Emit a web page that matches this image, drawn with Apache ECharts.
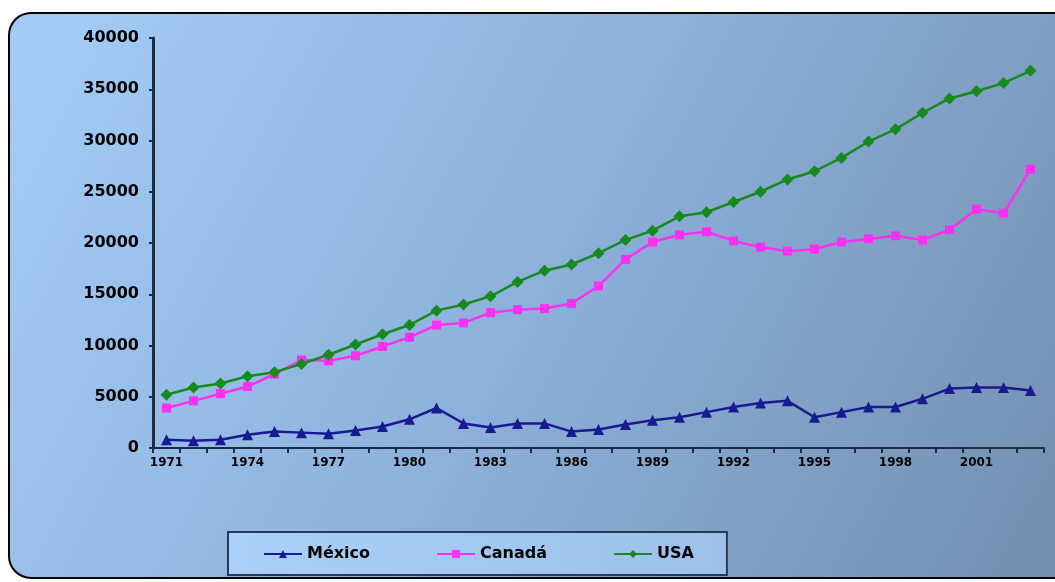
<!DOCTYPE html>
<html>
<head>
<meta charset="utf-8">
<script src="https://cdn.jsdelivr.net/npm/echarts@6/dist/echarts.min.js"></script>
<style>
html,body{margin:0;padding:0;background:#ffffff;}
#chart{width:1055px;height:582px;}
</style>
</head>
<body>
<div id="chart"></div>
<script>
const years = [];
for (let y = 1971; y <= 2003; y++) years.push(String(y));
const mexico = [800, 700, 800, 1300, 1600, 1500, 1400, 1700, 2100, 2800, 3900, 2400, 2000, 2400, 2400, 1600, 1800, 2300, 2700, 3000, 3500, 4000, 4400, 4600, 3000, 3500, 4000, 4000, 4800, 5800, 5900, 5900, 5600];
const canada = [3900, 4600, 5300, 6000, 7200, 8600, 8500, 9000, 9900, 10800, 12000, 12200, 13200, 13500, 13600, 14100, 15800, 18400, 20100, 20800, 21100, 20200, 19600, 19200, 19400, 20100, 20400, 20700, 20300, 21300, 23300, 22900, 27200];
const usa = [5200, 5900, 6300, 7000, 7400, 8200, 9100, 10100, 11100, 12000, 13400, 14000, 14800, 16200, 17300, 17900, 19000, 20300, 21200, 22600, 23000, 24000, 25000, 26200, 27000, 28300, 29900, 31100, 32700, 34100, 34800, 35600, 36800];
const seriesNames = ['México', 'Canadá', 'USA'];

const chart = echarts.init(document.getElementById('chart'));
const font = '"DejaVu Sans", "Liberation Sans", Arial, sans-serif';
chart.setOption({
  animation: false,
  textStyle: { fontFamily: font },
  graphic: [{
    type: 'rect', z: -10, silent: true,
    shape: { x: 9, y: 13, width: 1070, height: 565, r: [22, 0, 0, 22] },
    style: {
      fill: new echarts.graphic.LinearGradient(0, 0, 1, 1, [
        { offset: 0, color: '#a3cdf8' },
        { offset: 0.5, color: '#8cb0da' },
        { offset: 1, color: '#728eae' }
      ]),
      stroke: '#000000', lineWidth: 2
    }
  }],
  grid: { left: 153, right: 11, top: 38, bottom: 134 },
  legend: {
    data: seriesNames,
    left: 228, top: 532,
    padding: [14, 33, 13, 35],
    itemGap: 66, itemWidth: 38, itemHeight: 10,
    backgroundColor: new echarts.graphic.LinearGradient(0, 0, 1, 0, [
      { offset: 0, color: '#a9d0f8' },
      { offset: 1, color: '#9cc0ea' }
    ]),
    borderColor: '#2a3a55', borderWidth: 2,
    textStyle: { color: '#000000', fontWeight: 'bold', fontSize: 16, fontFamily: font }
  },
  xAxis: {
    type: 'category', data: years, boundaryGap: true,
    axisLine: { lineStyle: { color: '#1c2c44', width: 2 } },
    axisTick: { show: true, interval: 0, length: 5, lineStyle: { color: '#1c2c44', width: 2 } },
    axisLabel: { interval: 2, color: '#000000', fontWeight: 'bold', fontSize: 12, margin: 9, fontFamily: font }
  },
  yAxis: {
    type: 'value', min: 0, max: 40000, interval: 5000,
    splitLine: { show: false },
    axisLine: { show: true, lineStyle: { color: '#1c2c44', width: 3 } },
    axisTick: { show: true, length: 4, lineStyle: { color: '#1c2c44', width: 2 } },
    axisLabel: { color: '#000000', fontWeight: 'bold', fontSize: 16, margin: 14, fontFamily: font,
      formatter: v => String(v) }
  },
  series: [
    { name: seriesNames[0], type: 'line', data: mexico, symbol: 'triangle', symbolSize: 11,
      lineStyle: { color: '#1a1a90', width: 2.5 }, itemStyle: { color: '#1a1a90' } },
    { name: seriesNames[1], type: 'line', data: canada, symbol: 'rect', symbolSize: 9,
      lineStyle: { color: '#ff30f0', width: 2.5 }, itemStyle: { color: '#ff30f0' } },
    { name: seriesNames[2], type: 'line', data: usa, symbol: 'diamond', symbolSize: 12,
      lineStyle: { color: '#178a1e', width: 2.5 }, itemStyle: { color: '#178a1e' } }
  ]
});
</script>
</body>
</html>
